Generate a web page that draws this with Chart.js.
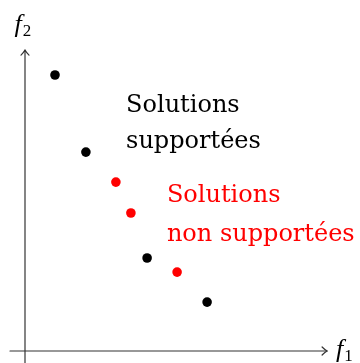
<!DOCTYPE html>
<html lang="fr">
<head>
    <meta charset="UTF-8" />
    <title>Solutions supportées / non supportées</title>
    <script src="https://cdn.jsdelivr.net/npm/chart.js"></script>
    <style>
        html, body { margin: 0; padding: 0; background: #fff; }
        #chart { display: block; }
    </style>
</head>
<body>
    <canvas id="chart" width="360" height="363"></canvas>

    <script>
        // values (f1, f2)
        const supportedF1 = [1.0, 2.03, 4.07, 6.07];
        const supportedF2 = [9.2, 6.63, 3.1, 1.63];
        const nonSupportedF1 = [3.03, 3.53, 5.07];
        const nonSupportedF2 = [5.63, 4.6, 2.63];

        const supportedLines = ["Solutions", "supportées"];
        const nonSupportedLines = ["Solutions", "non supportées"];

        const serif = '"DejaVu Serif", serif';

        function toPoints(xs, ys) {
            return xs.map((x, i) => ({ x: x, y: ys[i] }));
        }

        // axes with open arrow heads, axis names and the two text blocks
        const axesPlugin = {
            id: "axes",
            afterDatasetsDraw(chart) {
                const ctx = chart.ctx;
                const sx = chart.scales.x;
                const sy = chart.scales.y;
                const x0 = sx.getPixelForValue(0);
                const y0 = sy.getPixelForValue(0);

                ctx.save();
                ctx.strokeStyle = "#333";
                ctx.lineWidth = 1.2;
                ctx.lineCap = "round";
                ctx.lineJoin = "round";

                // vertical axis
                const yTop = sy.getPixelForValue(10.03);
                ctx.beginPath();
                ctx.moveTo(x0, chart.height);
                ctx.lineTo(x0, yTop);
                ctx.stroke();
                ctx.beginPath();
                ctx.moveTo(x0 - 4, yTop + 5);
                ctx.quadraticCurveTo(x0 - 1, yTop + 2, x0, yTop);
                ctx.quadraticCurveTo(x0 + 1, yTop + 2, x0 + 4, yTop + 5);
                ctx.stroke();

                // horizontal axis
                const xLeft = sx.getPixelForValue(-0.5);
                const xRight = sx.getPixelForValue(10.07);
                ctx.beginPath();
                ctx.moveTo(xLeft, y0);
                ctx.lineTo(xRight, y0);
                ctx.stroke();
                ctx.beginPath();
                ctx.moveTo(xRight - 5, y0 - 4);
                ctx.quadraticCurveTo(xRight - 2, y0 - 1, xRight, y0);
                ctx.quadraticCurveTo(xRight - 2, y0 + 1, xRight - 5, y0 + 4);
                ctx.stroke();

                // axis names
                ctx.fillStyle = "#000";
                ctx.textBaseline = "alphabetic";
                ctx.textAlign = "left";
                function axisName(px, py, sub) {
                    ctx.font = 'italic 26px "Liberation Serif", serif';
                    ctx.fillText("f", px, py);
                    const w = ctx.measureText("f").width;
                    ctx.font = '17px "Liberation Serif", serif';
                    ctx.fillText(sub, px + w + 1, py + 4);
                }
                axisName(sx.getPixelForValue(-0.35), sy.getPixelForValue(10.63), "2");
                axisName(sx.getPixelForValue(10.37), sy.getPixelForValue(-0.2), "1");

                // text blocks
                ctx.font = "24px " + serif;
                ctx.fillStyle = "#000";
                supportedLines.forEach((t, i) => {
                    ctx.fillText(t, sx.getPixelForValue(3.37), sy.getPixelForValue(7.97) + i * 36);
                });
                ctx.fillStyle = "#ff0000";
                nonSupportedLines.forEach((t, i) => {
                    ctx.fillText(t, sx.getPixelForValue(4.73), sy.getPixelForValue(4.97) + i * 39);
                });
                ctx.restore();
            }
        };

        new Chart(document.getElementById("chart"), {
            type: "scatter",
            data: {
                datasets: [
                    {
                        label: "Solutions supportées",
                        data: toPoints(supportedF1, supportedF2),
                        backgroundColor: "#000",
                        borderWidth: 0,
                        pointRadius: 4.8
                    },
                    {
                        label: "Solutions non supportées",
                        data: toPoints(nonSupportedF1, nonSupportedF2),
                        backgroundColor: "#ff0000",
                        borderWidth: 0,
                        pointRadius: 4.8
                    }
                ]
            },
            options: {
                responsive: false,
                animation: false,
                layout: { padding: 0, autoPadding: false },
                plugins: {
                    legend: { display: false },
                    tooltip: { enabled: false }
                },
                scales: {
                    x: { type: "linear", min: -0.8333, max: 11.1667, display: false },
                    y: { type: "linear", min: -0.4, max: 11.7, display: false }
                }
            },
            plugins: [axesPlugin]
        });
    </script>
</body>
</html>
